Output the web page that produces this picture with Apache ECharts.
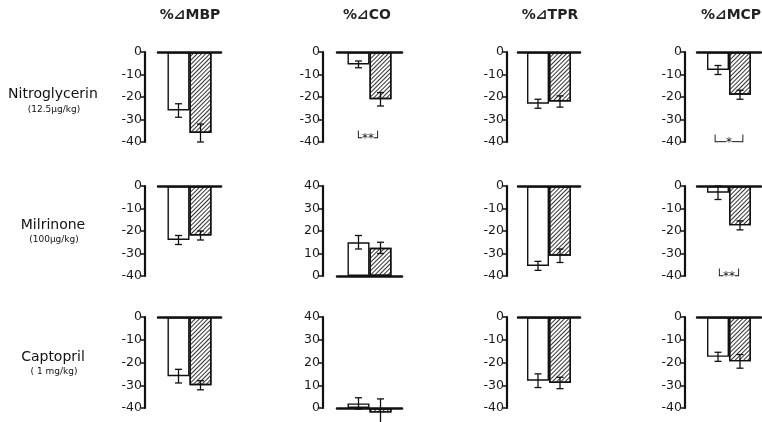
<!DOCTYPE html>
<html><head><meta charset="utf-8">
<script src="https://cdn.jsdelivr.net/npm/echarts@6/dist/echarts.min.js"></script>
<style>html,body{margin:0;padding:0;background:#fff}#c{width:762px;height:422px}</style>
</head><body><div id="c"></div>
<script>
// ---- data ----
const measures = ['%⊿MBP', '%⊿CO', '%⊿TPR', '%⊿MCP'];
const drugs = ['Nitroglycerin', 'Milrinone', 'Captopril'];
const doses = ['(12.5μg/kg)', '(100μg/kg)', '( 1 mg/kg)'];
// open (white) bars, by drug: [Nitroglycerin, Milrinone, Captopril]
const openMBP = [-26, -24, -26];
const openCO  = [-5.5, 15, 2];
const openTPR = [-23, -35.5, -28];
const openMCP = [-8, -3, -17.5];
const openErrMBP = [3, 2, 3];
const openErrCO  = [1.5, 3, 2.5];
const openErrTPR = [2, 2, 3];
const openErrMCP = [2, 3, 2];
// hatched bars
const hatchMBP = [-36, -22, -30];
const hatchCO  = [-21, 12.5, -2];
const hatchTPR = [-22, -31, -29];
const hatchMCP = [-19, -17.5, -19.5];
const hatchErrMBP = [4, 2, 2];
const hatchErrCO  = [3, 2.5, 6];
const hatchErrTPR = [2.5, 3, 2.5];
const hatchErrMCP = [2, 2, 3];
// axis ranges per panel [row][col]
const axisRange = [
  [[-40, 0], [-40, 0], [-40, 0], [-40, 0]],
  [[-40, 0], [0, 40], [-40, 0], [-40, 0]],
  [[-40, 0], [0, 40], [-40, 0], [-40, 0]]
];
// significance markers: [row, col, text]
const marks = [[0, 1, '└**┘'], [0, 3, '└─*─┘'], [1, 3, '└**┘']];

// ---- layout (style only) ----
const colLeft = [158, 337, 518, 697];
const colWidth = [63, 65, 62, 64];
const colOffset = [13, 14, 11, 12];
const rowTop = [52, 186, 317];
const rowHeight = [90, 90, 91];
const markXY = {'0_1': [368, 139], '0_3': [729, 143], '1_3': [729, 277]};

const openVals = [openMBP, openCO, openTPR, openMCP];
const openErrs = [openErrMBP, openErrCO, openErrTPR, openErrMCP];
const hatchVals = [hatchMBP, hatchCO, hatchTPR, hatchMCP];
const hatchErrs = [hatchErrMBP, hatchErrCO, hatchErrTPR, hatchErrMCP];

const FONT = 'DejaVu Sans';
const grid = [], xAxis = [], yAxis = [], series = [];
let idx = 0;
function errRender(dx) {
  return function (params, api) {
    const v = api.value(1), e = api.value(2);
    const a = api.coord([0, v + e]), b = api.coord([0, v - e]);
    const x = a[0] + dx, hw = 3.5;
    return {
      type: 'group', children: [
        {type: 'line', shape: {x1: x, y1: a[1], x2: x, y2: b[1]}, style: {stroke: '#111', lineWidth: 1.3}},
        {type: 'line', shape: {x1: x - hw, y1: a[1], x2: x + hw, y2: a[1]}, style: {stroke: '#111', lineWidth: 1.3}},
        {type: 'line', shape: {x1: x - hw, y1: b[1], x2: x + hw, y2: b[1]}, style: {stroke: '#111', lineWidth: 1.3}}
      ]
    };
  };
}
for (let r = 0; r < 3; r++) {
  for (let c = 0; c < 4; c++) {
    grid.push({left: colLeft[c], top: rowTop[r], width: colWidth[c], height: rowHeight[r]});
    xAxis.push({
      type: 'category', gridIndex: idx, data: [drugs[r]],
      axisLine: {onZero: true, lineStyle: {color: '#111', width: 2.5}},
      axisTick: {show: false}, axisLabel: {show: false}, splitLine: {show: false}, z: 5
    });
    yAxis.push({
      type: 'value', gridIndex: idx, min: axisRange[r][c][0], max: axisRange[r][c][1], interval: 10,
      offset: colOffset[c],
      axisLine: {show: true, onZero: false, lineStyle: {color: '#111', width: 2.2}},
      axisTick: {show: true, length: 4, lineStyle: {color: '#111', width: 1.5}},
      axisLabel: {color: '#1a1a1a', fontFamily: FONT, fontSize: 12.5, margin: 3},
      splitLine: {show: false}
    });
    series.push({
      type: 'bar', xAxisIndex: idx, yAxisIndex: idx, data: [openVals[c][r]],
      barWidth: 22, barGap: '0%', clip: false,
      itemStyle: {color: '#fff', borderColor: '#111', borderWidth: 1.4}, silent: true
    });
    series.push({
      type: 'bar', xAxisIndex: idx, yAxisIndex: idx, data: [hatchVals[c][r]],
      barWidth: 22, barGap: '0%', clip: false,
      itemStyle: {
        color: '#fff', borderColor: '#111', borderWidth: 1.4,
        decal: {symbol: 'rect', symbolSize: 1, dashArrayX: [1, 0], dashArrayY: [1, 2], rotation: -Math.PI / 4, color: '#333'}
      }, silent: true
    });
    series.push({
      type: 'custom', xAxisIndex: idx, yAxisIndex: idx, clip: false, z: 10,
      data: [[0, openVals[c][r], openErrs[c][r]]], renderItem: errRender(-11), encode: {x: 0, y: 1}
    });
    series.push({
      type: 'custom', xAxisIndex: idx, yAxisIndex: idx, clip: false, z: 10,
      data: [[0, hatchVals[c][r], hatchErrs[c][r]]], renderItem: errRender(11), encode: {x: 0, y: 1}
    });
    idx++;
  }
}
const titleX = [190, 367, 550, 731];
const graphic = [];
measures.forEach((m, i) => graphic.push({
  type: 'text', x: titleX[i], y: 15,
  style: {text: m, font: 'bold 14px "DejaVu Sans"', fill: '#222', align: 'center', verticalAlign: 'middle'}
}));
const drugY = [94, 225, 357], doseY = [110, 240, 372];
drugs.forEach((d, i) => {
  graphic.push({type: 'text', x: 53, y: drugY[i], style: {text: d, font: '14px "DejaVu Sans"', fill: '#111', align: 'center', verticalAlign: 'middle'}});
  graphic.push({type: 'text', x: 54, y: doseY[i], style: {text: doses[i], font: '9px "DejaVu Sans"', fill: '#111', align: 'center', verticalAlign: 'middle'}});
});
marks.forEach(mk => {
  const p = markXY[mk[0] + '_' + mk[1]];
  graphic.push({type: 'text', x: p[0], y: p[1], style: {text: mk[2], font: '12px "DejaVu Sans"', fill: '#111', align: 'center', verticalAlign: 'middle'}});
});

const chart = echarts.init(document.getElementById('c'), null, {renderer: 'canvas'});
chart.setOption({animation: false, backgroundColor: '#fff', grid, xAxis, yAxis, series, graphic});
</script></body></html>
